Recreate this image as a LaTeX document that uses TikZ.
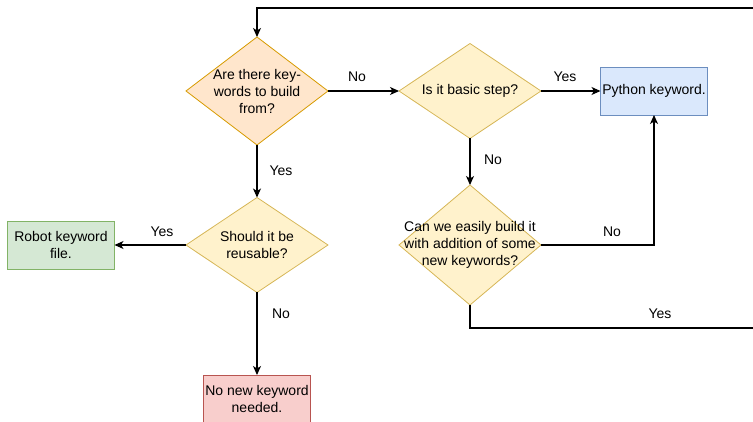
\documentclass[tikz,border=0pt]{standalone}
\usepackage{fontspec}
\setmainfont{Liberation Sans}
\usepackage{xcolor}
\usepackage{tikz}
\usetikzlibrary{shapes.geometric}
\usetikzlibrary{arrows.meta}
\definecolor{startfill}{HTML}{FFE6CC}
\definecolor{startline}{HTML}{D79B00}
\definecolor{askfill}{HTML}{FFF2CC}
\definecolor{askline}{HTML}{D6B656}
\definecolor{pyfill}{HTML}{DAE8FC}
\definecolor{pyline}{HTML}{6C8EBF}
\definecolor{robotfill}{HTML}{D5E8D4}
\definecolor{robotline}{HTML}{82B366}
\definecolor{nonefill}{HTML}{F8CECC}
\definecolor{noneline}{HTML}{B85450}

\begin{document}
\begin{tikzpicture}[x=1pt,y=-1pt,
    font=\fontsize{14}{17}\selectfont,
    ask/.style={diamond,draw=askline,fill=askfill,line width=0.8pt,
      inner sep=0pt,outer sep=0pt,minimum width=142pt},
    asktext/.style={align=center,inner sep=0pt},
    answer/.style={rectangle,line width=0.8pt,minimum width=107pt,
      minimum height=48pt,align=center,inner sep=0pt,outer sep=0pt},
    link/.style={line width=1.1pt,-{Stealth[length=9pt,width=8pt,inset=2.5pt]}},
    lbl/.style={inner sep=0pt}]
    \useasboundingbox (0,0) rectangle (753,422);
    \node[ask,draw=startline,fill=startfill,minimum height=108pt] (build) at (257,91) {};
    \node[asktext] (buildtext) at (build) {Are there key-\\words to build\\from?};
    \node[ask,minimum height=95pt] (basic) at (470,91) {};
    \node[asktext] (basictext) at (basic) {Is it basic step?};
    \node[ask,minimum height=120pt] (easy) at (470,245) {};
    \node[asktext] (easytext) at (easy) {Can we easily build it\\with addition of some\\new keywords?};
    \node[ask,minimum height=95pt] (reuse) at (257,245) {};
    \node[asktext] (reusetext) at (reuse) {Should it be\\reusable?};
    \node[answer,draw=pyline,fill=pyfill] (python) at (654,91) {Python keyword.};
    \node[answer,draw=robotline,fill=robotfill] (robot) at (61,245) {Robot keyword\\file.};
    \node[answer,draw=noneline,fill=nonefill] (nokw) at (257,399) {No new keyword\\needed.};
    \coordinate (back) at (780,8);
    \draw[link] (build.east) -- (basic.west);
    \draw[link] (basic.east) -- (python.west);
    \draw[link] (basic.south) -- (easy.north);
    \draw[link] (easy.east) -| (python.south);
    \draw[link] (easy.south) -- ++(0,23) -| (back) -| (build.north);
    \draw[link] (build.south) -- (reuse.north);
    \draw[link] (reuse.west) -- (robot.east);
    \draw[link] (reuse.south) -- (nokw.north);
    \node[lbl] (no1) at (357,77) {No};
    \node[lbl] (yes1) at (565,77) {Yes};
    \node[lbl] (no2) at (493,160) {No};
    \node[lbl] (no3) at (612,232) {No};
    \node[lbl] (yes2) at (660,314) {Yes};
    \node[lbl] (yes3) at (281,171) {Yes};
    \node[lbl] (yes4) at (162,232) {Yes};
    \node[lbl] (no4) at (281,314) {No};
  \end{tikzpicture}
\end{document}
